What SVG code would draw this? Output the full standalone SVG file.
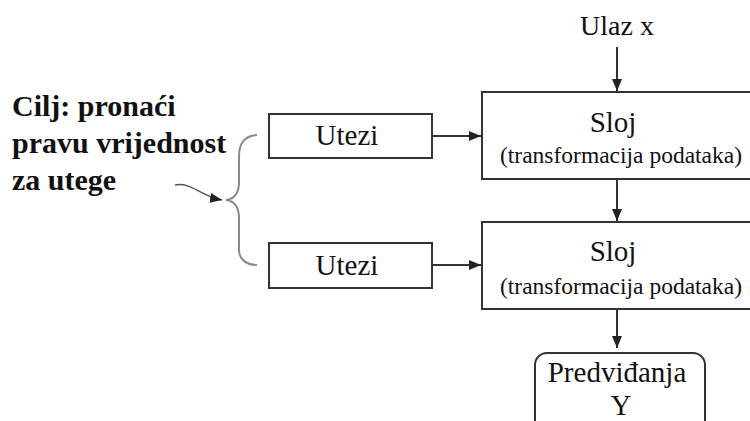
<svg xmlns="http://www.w3.org/2000/svg" width="750" height="421" viewBox="0 0 750 421">
<style>
.box{fill:#fff;stroke:#333;stroke-width:2}
.t{font-family:"Liberation Serif","Times New Roman",serif;fill:#111}
.lbl{font-size:29px;text-anchor:middle}
.sub{font-size:23.5px;text-anchor:middle}
.goal{font-size:30px;font-weight:bold}
.edge{stroke:#333;stroke-width:2;fill:none}
.brace{stroke:#8a8a8a;stroke-width:2;fill:none}
</style>
<defs>
<marker id="ah" viewBox="0 0 12 10" refX="12" refY="5" markerWidth="12" markerHeight="10" markerUnits="userSpaceOnUse" orient="auto">
<path d="M0,0 L12,5 L0,10 Z" fill="#222"/>
</marker>
</defs>
<rect width="750" height="421" fill="#fff"/>
<g id="goal">
<text class="t goal" x="12" y="116">Cilj: pronaći</text>
<text class="t goal" x="12" y="153">pravu vrijednost</text>
<text class="t goal" x="12" y="190">za utege</text>
</g>
<g id="input">
<text class="t lbl" x="617" y="35" style="font-size:28px">Ulaz x</text>
</g>
<g id="utezi1">
<rect class="box" x="269" y="114" width="163" height="44"/>
<text class="t lbl" x="347" y="145">Utezi</text>
</g>
<g id="utezi2">
<rect class="box" x="269" y="243" width="163" height="45"/>
<text class="t lbl" x="347" y="275">Utezi</text>
</g>
<g id="sloj1">
<rect class="box" x="482" y="92" width="280" height="87"/>
<text class="t lbl" x="613" y="132">Sloj</text>
<text class="t sub" x="621" y="163">(transformacija podataka)</text>
</g>
<g id="sloj2">
<rect class="box" x="482" y="222" width="280" height="87"/>
<text class="t lbl" x="613" y="261">Sloj</text>
<text class="t sub" x="621" y="294">(transformacija podataka)</text>
</g>
<g id="predvidjanja">
<rect class="box" x="535" y="353" width="170" height="90" rx="12" ry="12"/>
<text class="t lbl" x="617" y="382">Predviđanja</text>
<text class="t lbl" x="621" y="415">Y</text>
</g>
<g id="connectors">
<line class="edge" x1="617" y1="47" x2="617" y2="91" marker-end="url(#ah)"/>
<line class="edge" x1="432" y1="136" x2="481" y2="136" marker-end="url(#ah)"/>
<line class="edge" x1="432" y1="265" x2="481" y2="265" marker-end="url(#ah)"/>
<line class="edge" x1="617" y1="179" x2="617" y2="221" marker-end="url(#ah)"/>
<line class="edge" x1="617" y1="309" x2="617" y2="348" marker-end="url(#ah)"/>
<path class="brace" d="M257,135 C245,136 239,143 239,156 L239,182 C239,193 234,199 226,200 C234,201 239,207 239,218 L239,250 C239,259 246,265 257,265"/>
<path d="M175,185 C192,182 200,196 222,200" stroke="#555" stroke-width="1.5" fill="none" marker-end="url(#ah)"/>
</g>
</svg>
